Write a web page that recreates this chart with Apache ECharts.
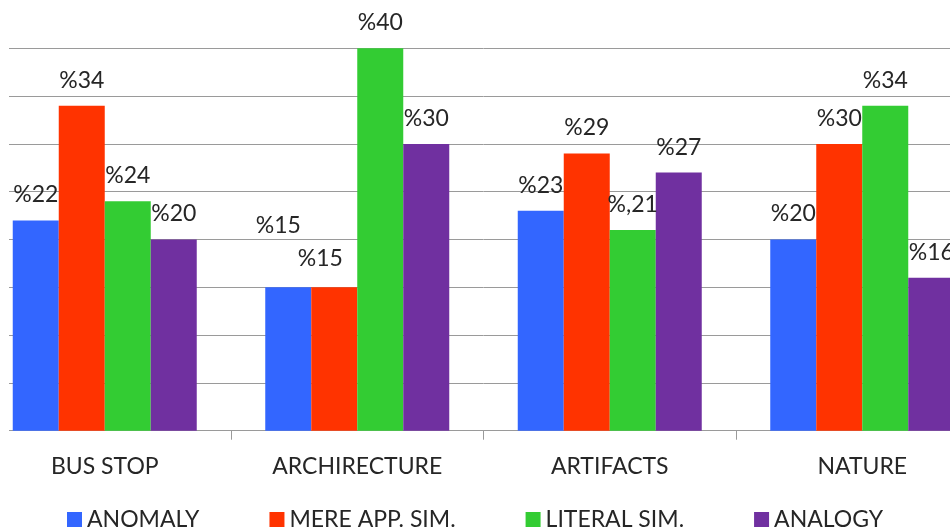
<!DOCTYPE html>
<html>
<head>
<meta charset="utf-8">
<script src="https://cdn.jsdelivr.net/npm/echarts@6/dist/echarts.min.js"></script>
<style>
  html, body { margin: 0; padding: 0; background: #fff; overflow: hidden; width: 950px; height: 530px; position: relative; }
  /* The plot runs past both window edges, so the canvas is wider than the window */
  #chart { position: absolute; left: -40px; top: 0; width: 1030px; height: 530px; }
</style>
</head>
<body>
<div id="chart"></div>
<script>
// Categories and series values (percent)
const categories = ['BUS STOP', 'ARCHIRECTURE', 'ARTIFACTS', 'NATURE'];
const seriesNames = ['ANOMALY', 'MERE APP. SIM.', 'LITERAL SIM.', 'ANALOGY'];
const anomaly = [22, 15, 23, 20];
const mereAppSim = [34, 15, 29, 30];
const literalSim = [24, 40, 21, 34];
const analogy = [20, 30, 27, 16];

// Value axis range and step
const yMin = 0;
const yMax = 40;
const yStep = 5;

// Label text exceptions as written on the chart
const labelTextOverrides = { 'LITERAL SIM.': { 2: '%,21' } };

// Hand-moved labels (pixel nudges)
const labelNudges = {
  'ANOMALY': { 1: [-10, -36] },
  'MERE APP. SIM.': { 1: [-14, -3] }
};

const colors = ['#3366FF', '#FF3300', '#33CC33', '#7030A0'];
const seriesValues = [anomaly, mereAppSim, literalSim, analogy];
const FONT = 'Lato';
const TEXT = '#262626';
const SHIFT = 40; // canvas starts this many px left of the window

const series = seriesNames.map((name, si) => ({
  name: name,
  type: 'bar',
  barWidth: 46,
  barGap: '0%',
  itemStyle: { color: colors[si] },
  label: {
    show: true,
    position: 'top',
    distance: 14,
    fontFamily: FONT,
    fontSize: 23,
    color: TEXT,
    formatter: (p) => {
      const o = labelTextOverrides[name];
      if (o && o[p.dataIndex] !== undefined) return o[p.dataIndex];
      return '%' + p.value;
    }
  },
  data: seriesValues[si].map((v, i) => {
    const n = labelNudges[name] && labelNudges[name][i];
    return n ? { value: v, label: { offset: n } } : { value: v };
  })
}));

const chart = echarts.init(document.getElementById('chart'), null, { renderer: 'canvas' });
chart.setOption({
  animation: false,
  backgroundColor: '#ffffff',
  grid: { left: SHIFT - 21.5, width: 1010, top: 48.3, bottom: 99.3, containLabel: false },
  legend: {
    data: seriesNames,
    left: 'center',
    top: 503,
    icon: 'rect',
    itemWidth: 15,
    itemHeight: 15,
    itemGap: 70,
    textStyle: { fontFamily: FONT, fontSize: 23, color: TEXT }
  },
  xAxis: {
    type: 'category',
    data: categories,
    axisLine: { show: true, lineStyle: { color: '#9a9a9a', width: 1 } },
    axisTick: { show: true, length: 9, lineStyle: { color: '#9a9a9a' } },
    axisLabel: { fontFamily: FONT, fontSize: 23, color: TEXT, margin: 24 }
  },
  yAxis: {
    type: 'value',
    min: yMin,
    max: yMax,
    interval: yStep,
    axisLine: { show: false },
    axisTick: { show: false },
    axisLabel: { show: false },
    splitLine: { show: true, lineStyle: { color: '#9a9a9a', width: 1 } }
  },
  graphic: [{
    type: 'rect',
    left: 0,
    top: 40,
    shape: { width: SHIFT + 9, height: 400 },
    style: { fill: '#ffffff' },
    z: 100
  }],
  series: series
});
</script>
</body>
</html>
